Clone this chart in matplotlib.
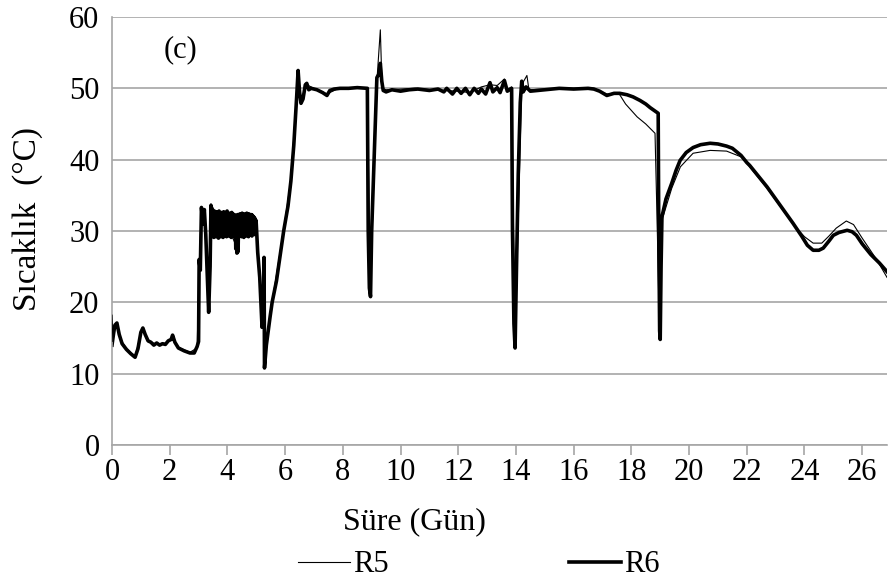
import matplotlib
matplotlib.use("Agg")
import matplotlib.pyplot as plt

plt.rcParams["font.family"] = ["Liberation Serif", "DejaVu Serif"]
plt.rcParams["path.simplify"] = False

# R6 (thick line) - day, temperature
r6_day = [0, 0.05, 0.1, 0.17, 0.25, 0.35, 0.5, 0.65, 0.8, 0.9, 1.0, 1.07, 1.15, 1.25, 1.35,
          1.45, 1.55, 1.65, 1.75, 1.85, 1.95, 2.05, 2.1, 2.18, 2.3, 2.5, 2.7, 2.85, 2.95, 3.0,
          3.02, 3.06, 3.1, 3.15, 3.2, 3.25, 3.3, 3.35, 3.4, 3.43,
          3.45, 3.47, 3.49, 3.51, 3.53, 3.55, 3.57, 3.59, 3.61, 3.63,
          3.65, 3.67, 3.69, 3.71, 3.73, 3.75, 3.77, 3.79, 3.81, 3.83,
          3.85, 3.87, 3.89, 3.91, 3.93, 3.95, 3.97, 3.99, 4.01, 4.03,
          4.05, 4.07, 4.09, 4.11, 4.13, 4.15, 4.17, 4.19, 4.21, 4.23,
          4.25, 4.27, 4.29, 4.31, 4.33, 4.35, 4.37, 4.39, 4.41, 4.43,
          4.45, 4.47, 4.49, 4.51, 4.53, 4.55, 4.57, 4.59, 4.61, 4.63,
          4.65, 4.67, 4.69, 4.71, 4.73, 4.75, 4.77, 4.79, 4.81, 4.83,
          4.85, 4.87, 4.89, 4.91, 4.93, 4.95, 4.97, 4.99,
          5.0, 5.05, 5.12, 5.2, 5.25, 5.27, 5.285, 5.35, 5.48, 5.55, 5.7, 5.95, 6.1, 6.2,
          6.3, 6.4, 6.45, 6.5, 6.55, 6.62, 6.7, 6.75, 6.82, 6.9, 7.1, 7.3, 7.45, 7.55, 7.7,
          7.9, 8.2, 8.5, 8.85, 8.88, 8.92, 8.96, 9.0, 9.1, 9.18, 9.25, 9.3, 9.35, 9.4, 9.5,
          9.7, 10.0, 10.3, 10.6, 11.0, 11.3, 11.5, 11.6, 11.8, 11.95, 12.1, 12.25, 12.4, 12.55,
          12.7, 12.8, 12.95, 13.1, 13.2, 13.35, 13.45, 13.6, 13.7, 13.85, 13.88, 13.93, 13.97,
          14.02, 14.08, 14.15, 14.2, 14.25, 14.35, 14.5, 15.0, 15.5, 16.0, 16.5, 16.7, 16.9,
          17.15, 17.4, 17.6, 17.85, 18.06, 18.3, 18.5, 18.65, 18.93, 18.95, 18.98, 19.0, 19.03,
          19.06, 19.2, 19.4, 19.55, 19.69, 19.9, 20.14, 20.4, 20.73, 21.0, 21.3, 21.5, 21.8,
          22.0, 22.1, 22.4, 22.7, 23.0, 23.3, 23.6, 23.9, 24.1, 24.3, 24.5, 24.65, 24.85, 25.0,
          25.2, 25.48, 25.65, 25.8, 26.0, 26.3, 26.6, 26.86]
r6_temp = [14.0, 15.5, 16.8, 17.1, 15.5, 14.2, 13.4, 12.8, 12.3, 13.5, 15.8, 16.4, 15.5, 14.6, 14.4,
           14.0, 14.3, 14.0, 14.2, 14.1, 14.6, 14.8, 15.4, 14.4, 13.6, 13.2, 12.9, 12.9, 13.8, 14.5,
           26.0, 24.5, 33.3, 31.0, 33.0, 29.5, 24.0, 18.6, 25.0, 33.6,
           30.2, 32.9, 29.3, 32.6, 29.1, 32.8, 29.5, 32.4, 29.2, 32.7,
           29.4, 32.5, 29.0, 32.8, 29.6, 32.3, 29.2, 32.6, 29.4, 32.5,
           29.1, 32.7, 29.5, 32.4, 29.3, 32.6, 29.2, 32.8, 29.6, 32.3,
           29.3, 32.5, 29.4, 32.2, 29.1, 32.6, 29.5, 32.4, 29.2, 32.3,
           29.4, 32.2, 27.5, 32.0, 26.9, 32.3, 27.1, 32.1, 29.3, 32.4,
           29.5, 32.2, 29.2, 32.5, 29.4, 32.3, 29.1, 32.4, 29.5, 32.2,
           29.3, 32.5, 29.6, 32.2, 29.2, 32.4, 29.4, 32.1, 29.5, 32.3,
           29.3, 32.2, 29.6, 32.0, 29.5, 31.8, 30.0, 31.5,
           31.0, 27.0, 23.5, 16.5, 20.0, 26.3, 10.8, 14.0, 18.0, 20.0, 23.0, 30.0, 33.5, 37.0,
           42.0, 48.8, 52.5, 49.5, 47.9, 48.5, 50.5, 50.7, 49.8, 50.0, 49.8, 49.4, 49.0, 49.7, 49.9,
           50.0, 50.0, 50.1, 50.0, 30.0, 22.0, 20.8, 30.0, 42.0, 51.5, 52.0, 53.5, 51.0, 49.7, 49.5,
           49.8, 49.6, 49.8, 49.9, 49.7, 49.9, 49.5, 50.0, 49.2, 50.0, 49.3, 50.0, 49.1, 50.0,
           49.3, 49.9, 49.2, 50.8, 49.5, 50.1, 49.4, 51.1, 49.6, 50.0, 30.0, 17.0, 13.6,
           25.0, 38.0, 48.0, 51.0, 49.5, 50.2, 49.6, 49.8, 50.0, 49.9, 50.0, 49.9, 49.6,
           49.0, 49.3, 49.3, 49.1, 48.8, 48.3, 47.8, 47.3, 46.5, 30.0, 16.0, 14.8, 25.0,
           32.0, 34.5, 36.7, 38.5, 39.9, 41.0, 41.7, 42.1, 42.3, 42.2, 41.9, 41.6, 40.6,
           39.6, 39.2, 37.7, 36.2, 34.5, 32.8, 31.1, 29.3, 28.0, 27.3, 27.3, 27.6, 28.6, 29.4,
           29.8, 30.1, 29.9, 29.4, 28.2, 26.7, 25.5, 24.3]

# R5 (thin line)
r5_day = [0, 0.03, 0.1, 0.17, 0.3, 0.5, 0.8, 1.0, 1.07, 1.25, 1.5, 1.75, 1.95, 2.1, 2.3, 2.7,
          2.95, 3.02, 3.1, 3.2, 3.35, 3.43, 3.6, 3.7, 3.9, 4.1, 4.35, 4.5, 4.8, 5.0, 5.2, 5.27,
          5.29, 5.5, 5.95, 6.2, 6.4, 6.45, 6.55, 6.75, 7.0, 7.45, 7.9, 8.85, 8.95, 9.18, 9.3,
          9.36, 9.5, 10.5, 11.5, 12.0, 12.4, 12.8, 13.1, 13.35, 13.6, 13.7, 13.85, 13.97, 14.2,
          14.38, 14.45, 15.5, 16.7, 17.15, 17.55, 17.8, 18.2, 18.5, 18.82, 18.9, 18.97, 19.06,
          19.4, 19.7, 20.14, 20.73, 21.3, 21.8, 22.1, 22.7, 23.6, 24.0, 24.3, 24.6, 24.85,
          25.1, 25.45, 25.7, 26.0, 26.5, 26.86]
r5_temp = [18.2, 14.5, 16.5, 17.0, 14.8, 13.5, 12.4, 15.6, 16.2, 14.5, 14.2, 14.1, 14.5, 15.2, 13.7, 13.0,
           13.6, 25.0, 33.0, 32.5, 19.5, 33.8, 32.5, 29.6, 32.2, 29.8, 27.5, 32.0, 29.8, 31.5, 17.0, 25.5,
           11.5, 18.8, 30.2, 37.2, 49.0, 52.2, 48.2, 50.5, 50.0, 49.2, 50.1, 50.1, 21.2, 51.0, 58.2,
           50.0, 49.8, 50.0, 49.7, 49.6, 49.4, 50.2, 50.5, 50.4, 51.3, 49.8, 50.2, 14.0, 50.5,
           51.8, 49.8, 50.0, 50.0, 49.2, 49.4, 47.8, 46.0, 45.0, 43.7, 30.0, 16.5, 31.5,
           36.0, 39.0, 40.9, 41.3, 41.2, 40.4, 39.0, 36.0, 31.0, 29.2, 28.3, 28.3, 29.3,
           30.4, 31.4, 30.9, 29.0, 26.0, 23.5]

x_ticks = list(range(0, 27, 2))
y_ticks = list(range(0, 61, 10))

fig = plt.figure(figsize=(8.89, 5.85), dpi=100)
ax = fig.add_axes([112 / 889, 1 - 445 / 585, 775 / 889, 428 / 585])

ax.plot(r5_day, r5_temp, color="black", lw=0.8, label="R5", zorder=3)
ax.plot(r6_day, r6_temp, color="black", lw=2.6, label="R6", zorder=2)

ax.set_xlim(0, 26.86)
ax.set_ylim(0, 60)
ax.set_xticks(x_ticks)
ax.set_yticks(y_ticks)
ax.grid(axis="y", color="#a6a6a6", lw=1.2)
ax.set_axisbelow(True)
for s in ["top", "right"]:
    ax.spines[s].set_visible(False)
for s in ["left", "bottom"]:
    ax.spines[s].set_color("#a6a6a6")
    ax.spines[s].set_linewidth(1.2)
ax.tick_params(axis="x", direction="out", length=7, width=1.2, color="#a6a6a6",
               labelsize=22, pad=2)
ax.tick_params(axis="y", length=0, labelsize=22, pad=9)

ax.text(0.066, 0.923, "(c)", transform=ax.transAxes, fontsize=22, va="center", ha="left")

fig.text(414 / 889, 1 - 522 / 585, "Süre (Gün)", fontsize=23, ha="center", va="center")
fig.text(28 / 889, 1 - 219 / 585, "Sıcaklık  (°C)", fontsize=24, ha="center", va="center",
         rotation=90)

fig.legend(loc="center", bbox_to_anchor=(479 / 889, 1 - 565 / 585), ncol=2, frameon=False,
           fontsize=22, handlelength=1.7, columnspacing=5.9, handletextpad=0.1,
           borderaxespad=0, borderpad=0)

fig.savefig("out.png", dpi=100)
